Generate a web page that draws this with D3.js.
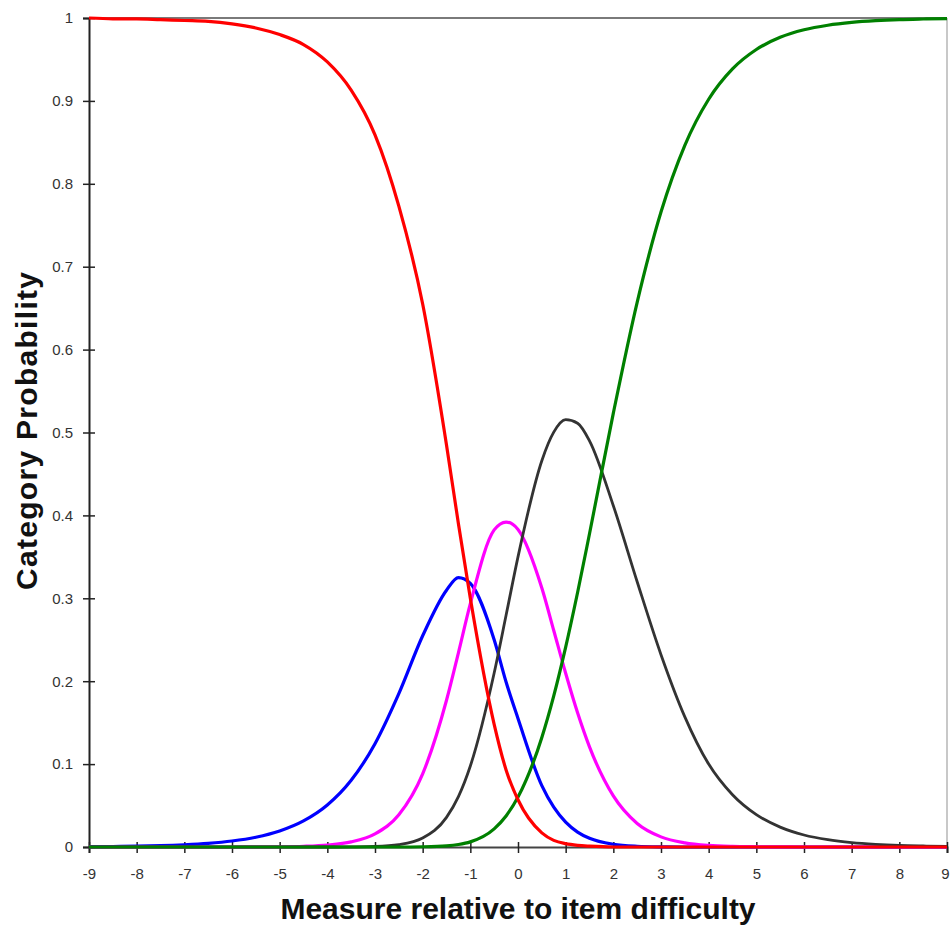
<!DOCTYPE html>
<html lang="en">
<head>
  <meta charset="UTF-8">
  <title>Category Probability</title>
  <script src="https://d3js.org/d3.v7.min.js"></script>
  <style>
    body { margin: 0; background: #fff; font-family: Arial, "Liberation Sans", sans-serif; }
    .curve { fill: none; stroke-linejoin: round; }
  </style>
</head>
<body>
<div id="chart"></div>
<script>
  // x positions (measure relative to item difficulty)
  var xs = [-9, -8.5, -8, -7.5, -7, -6.5, -6, -5.5, -5, -4.5, -4, -3.5, -3, -2.5, -2, -1.5, -1.25, -1,
    -0.5, -0.25, 0, 0.5, 0.75, 1, 1.25, 1.5, 2, 2.5, 3, 3.5, 4, 4.5, 5, 5.5, 6, 6.5, 7, 7.5, 8, 8.5, 9];

  // category probabilities
  var cat0 = [1.000, 0.999, 0.999, 0.998, 0.997, 0.996, 0.993, 0.988, 0.980, 0.968, 0.947, 0.913, 0.859, 0.773, 0.655, 0.485, 0.390, 0.300,
    0.148, 0.093, 0.057, 0.017, 0.008, 0.004, 0.002, 0.001, 0, 0, 0, 0, 0, 0, 0, 0, 0, 0, 0, 0, 0, 0, 0];
  var cat1 = [0.0004, 0.0006, 0.001, 0.0016, 0.0027, 0.0044, 0.0072, 0.0118, 0.0193, 0.0314, 0.0506, 0.0804, 0.1246, 0.185, 0.2548, 0.3098, 0.325, 0.318,
    0.25, 0.199, 0.155, 0.074, 0.048, 0.030, 0.018, 0.0105, 0.0033, 0.0009, 0.0002, 0, 0, 0, 0, 0, 0, 0, 0, 0, 0, 0, 0];
  var cat2 = [0, 0, 0, 0, 0, 0, 0, 0.0001, 0.0003, 0.0009, 0.0024, 0.0062, 0.0159, 0.0389, 0.0883, 0.177, 0.2343, 0.2936,
    0.3825, 0.392, 0.383, 0.3124, 0.2612, 0.2096, 0.1619, 0.1208, 0.0616, 0.0284, 0.0122, 0.005, 0.0019, 0.0007, 0.0003, 0.0001, 0, 0, 0, 0, 0, 0, 0];
  var cat3 = [0, 0, 0, 0, 0, 0, 0, 0, 0, 0, 0, 0.0002, 0.0007, 0.0029, 0.0108, 0.0357, 0.0607, 0.0977,
    0.2099, 0.2795, 0.35, 0.466, 0.5004, 0.5155, 0.5112, 0.49, 0.4117, 0.32, 0.232, 0.157, 0.100, 0.063, 0.039, 0.024, 0.0145, 0.0088, 0.0053, 0.0032, 0.0019, 0.0012, 0.0007];
  var cat4 = [0, 0, 0, 0, 0, 0, 0, 0, 0, 0, 0, 0, 0, 0, 0.0003, 0.0014, 0.003, 0.0062,
    0.0219, 0.0374, 0.0602, 0.1322, 0.1823, 0.2411, 0.307, 0.3778, 0.5234, 0.6571, 0.7659, 0.8464, 0.902, 0.9386, 0.962, 0.9767, 0.9858, 0.9913, 0.9947, 0.9968, 0.9981, 0.9988, 0.9993];

  var xTicks = d3.range(-9, 10, 1);
  var yTicks = [0, 0.1, 0.2, 0.3, 0.4, 0.5, 0.6, 0.7, 0.8, 0.9, 1];

  var series = [
    { values: cat1, color: "#0000ff" },
    { values: cat2, color: "#ff00ff" },
    { values: cat3, color: "#333333", width: 2.8 },
    { values: cat4, color: "#008000" },
    { values: cat0, color: "#ff0000" }
  ];

  var width = 950, height = 931;
  var margin = { top: 18, right: 3, bottom: 84, left: 89 };

  var svg = d3.select("#chart").append("svg")
    .attr("width", width)
    .attr("height", height);

  var x = d3.scaleLinear().domain([-9, 9]).range([margin.left, width - margin.right]);
  var y = d3.scaleLinear().domain([0, 1]).range([height - margin.bottom, margin.top]);

  // frame: grey top line and light right edge
  svg.append("line")
    .attr("x1", x(-9)).attr("x2", x(9))
    .attr("y1", y(1)).attr("y2", y(1))
    .attr("stroke", "#7a7a7a").attr("stroke-width", 2);
  svg.append("line")
    .attr("x1", x(9)).attr("x2", x(9))
    .attr("y1", y(1)).attr("y2", y(0))
    .attr("stroke", "#c8c8c8").attr("stroke-width", 2);

  // y axis
  var yAxis = svg.append("g")
    .attr("transform", "translate(" + x(-9) + ",0)")
    .call(d3.axisLeft(y).tickValues(yTicks).tickSize(6).tickFormat(function (d) { return String(d); }));
  yAxis.select(".domain").attr("stroke", "#222").attr("stroke-width", 2);
  yAxis.selectAll(".tick line").attr("x1", 6).attr("x2", -6).attr("stroke", "#222").attr("stroke-width", 1.5);
  yAxis.selectAll(".tick text").attr("x", -16)
    .style("font-family", "Arial, 'Liberation Sans', sans-serif")
    .style("font-size", "15px").style("fill", "#333");

  // x axis
  var xAxis = svg.append("g")
    .attr("transform", "translate(0," + y(0) + ")")
    .call(d3.axisBottom(x).tickValues(xTicks).tickSize(6).tickFormat(function (d) { return String(d); }));
  xAxis.select(".domain").attr("stroke", "#444").attr("stroke-width", 2);
  xAxis.selectAll(".tick line").attr("y1", -5).attr("y2", 6).attr("stroke", "#222").attr("stroke-width", 1.5);
  xAxis.selectAll(".tick text").attr("y", 21)
    .style("font-family", "Arial, 'Liberation Sans', sans-serif")
    .style("font-size", "15px").style("fill", "#333");
  // last label sits at the right edge; keep it inside the page
  xAxis.selectAll(".tick text").filter(function (d) { return d === 9; })
    .attr("text-anchor", "end").attr("x", 2);

  // curves
  var line = d3.line()
    .x(function (d) { return x(d[0]); })
    .y(function (d) { return y(d[1]); })
    .curve(d3.curveMonotoneX);

  series.forEach(function (s) {
    svg.append("path")
      .attr("class", "curve")
      .attr("stroke", s.color)
      .attr("stroke-width", s.width || 3.2)
      .attr("d", line(xs.map(function (v, i) { return [v, s.values[i]]; })));
  });

  // axis titles
  svg.append("text")
    .attr("transform", "translate(37,431) rotate(-90)")
    .attr("text-anchor", "middle")
    .attr("textLength", 318)
    .attr("lengthAdjust", "spacing")
    .style("font", "bold 30px Arial, 'Liberation Sans', sans-serif")
    .style("fill", "#111")
    .text("Category  Probability");

  svg.append("text")
    .attr("x", 518)
    .attr("y", 919)
    .attr("text-anchor", "middle")
    .style("font", "bold 30px Arial, 'Liberation Sans', sans-serif")
    .style("fill", "#111")
    .text("Measure relative to item difficulty");
</script>
</body>
</html>
